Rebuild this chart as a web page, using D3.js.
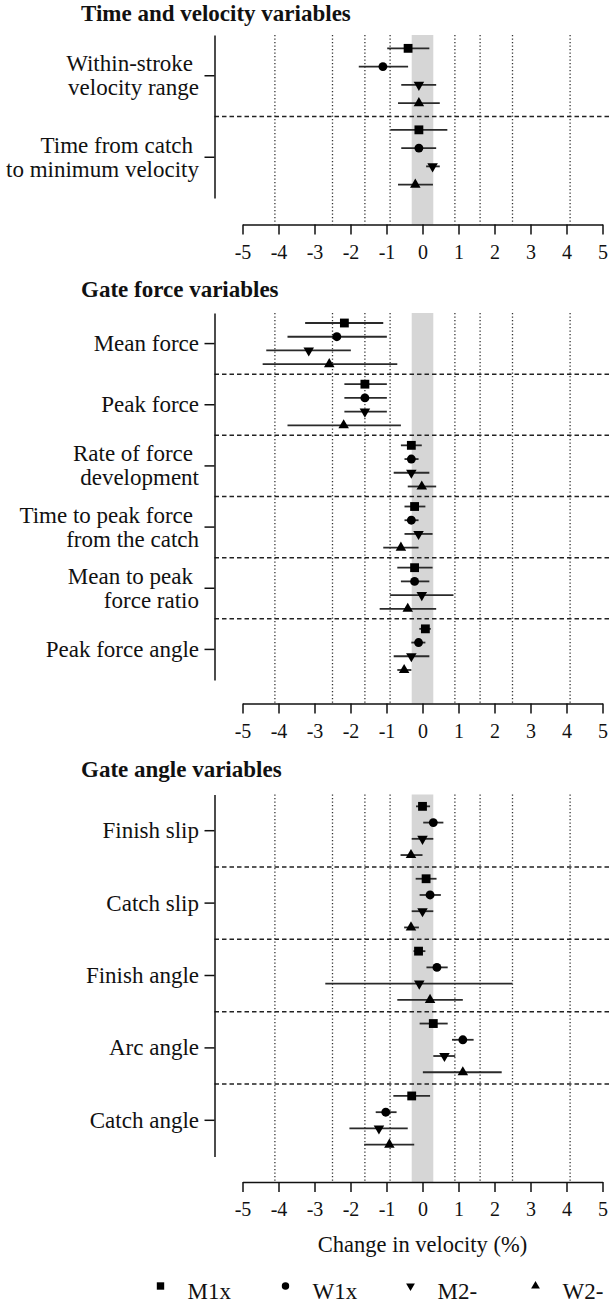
<!DOCTYPE html>
<html>
<head>
<meta charset="UTF-8">
<title>Change in velocity</title>
<script src="https://cdn.jsdelivr.net/npm/d3@7"></script>
<style>
  body { margin: 0; background: #fff; }
  svg text { font-family: "Liberation Serif", "Times New Roman", serif; fill: #111; }
</style>
</head>
<body>
<svg id="chart" width="611" height="1309"></svg>
<script>
// series, in the order they are stacked inside every variable
const series = ["M1x", "W1x", "M2-", "W2-"];
const xTicks = [-5, -4, -3, -2, -1, 0, 1, 2, 3, 4, 5];
const thresholds = [-4.1, -2.5, -1.6, -0.9, 0.9, 1.6, 2.5, 4.1];
const trivial = [-0.3, 0.3];

// each value row: [mean, lower, upper] per series
const timeLabels = [["Within-stroke", "velocity range"], ["Time from catch", "to minimum velocity"]];
const timeValues = [
  [[-0.40, -0.98, 0.19], [-1.10, -1.77, -0.40], [-0.10, -0.59, 0.38], [-0.10, -0.68, 0.48]],
  [[-0.10, -0.89, 0.69], [-0.10, -0.59, 0.38], [0.28, 0.10, 0.48], [-0.20, -0.68, 0.29]]
];

const forceLabels = [["Mean force"], ["Peak force"], ["Rate of force", "development"],
  ["Time to peak force", "from the catch"], ["Mean to peak", "force ratio"], ["Peak force angle"]];
const forceValues = [
  [[-2.17, -3.26, -1.09], [-2.38, -3.75, -0.99], [-3.16, -4.34, -1.99], [-2.59, -4.44, -0.70]],
  [[-1.60, -2.17, -0.99], [-1.60, -2.17, -0.99], [-1.60, -2.17, -0.99], [-2.19, -3.75, -0.60]],
  [[-0.31, -0.60, -0.02], [-0.31, -0.50, -0.11], [-0.31, -0.80, 0.19], [-0.02, -0.41, 0.38]],
  [[-0.22, -0.50, 0.08], [-0.31, -0.50, -0.11], [-0.11, -0.50, 0.28], [-0.60, -1.09, -0.11]],
  [[-0.22, -0.70, 0.28], [-0.22, -0.60, 0.19], [-0.02, -0.90, 0.86], [-0.41, -1.19, 0.38]],
  [[0.08, -0.09, 0.23], [-0.11, -0.31, 0.08], [-0.31, -0.80, 0.19], [-0.51, -0.70, -0.31]]
];

const angleLabels = [["Finish slip"], ["Catch slip"], ["Finish angle"], ["Arc angle"], ["Catch angle"]];
const angleValues = [
  [[0.00, -0.18, 0.21], [0.30, 0.02, 0.58], [0.00, -0.30, 0.30], [-0.32, -0.61, 0.00]],
  [[0.10, -0.19, 0.39], [0.21, -0.08, 0.51], [0.00, -0.30, 0.30], [-0.32, -0.51, -0.10]],
  [[-0.11, -0.25, 0.08], [0.40, 0.11, 0.70], [-0.09, -2.70, 2.50], [0.21, -0.70, 1.12]],
  [[0.30, -0.08, 0.70], [1.12, 0.82, 1.42], [0.61, 0.30, 0.91], [1.12, 0.01, 2.20]],
  [[-0.30, -0.81, 0.21], [-1.02, -1.30, -0.72], [-1.21, -2.03, -0.41], [-0.92, -1.62, -0.23]]
];

const panels = [
  {title: "Time and velocity variables", titleY: 21, top: 35, bottom: 198, axisY: 224.5, labels: timeLabels, values: timeValues},
  {title: "Gate force variables", titleY: 297, top: 313, bottom: 680, axisY: 703.5, labels: forceLabels, values: forceValues},
  {title: "Gate angle variables", titleY: 777, top: 794.5, bottom: 1156.5, axisY: 1182, labels: angleLabels, values: angleValues}
];

const svg = d3.select("#chart");
const spineX = 214.5;
const x = d3.scaleLinear().domain([-5, 5]).range([242.5, 602.5]);

const shapes = [d3.symbolSquare, d3.symbolCircle, d3.symbolTriangle, d3.symbolTriangle];
const sizes = [78, 62, 48, 48];
const rot = [0, 0, 180, 0];
const symbol = (i, scale) => d3.symbol().type(shapes[i]).size(sizes[i] * scale)();

panels.forEach(p => {
  const g = svg.append("g");
  const groups = d3.range(p.labels.length);
  const y = d3.scaleBand().domain(groups).range([p.top, p.bottom]);
  const row = d3.scalePoint().domain(d3.range(series.length)).range([0, y.bandwidth()]).padding(0.73);

  g.append("text")
    .attr("x", 81).attr("y", p.titleY)
    .style("font-weight", "bold").style("font-size", "23px")
    .text(p.title);

  // trivial zone
  g.append("rect")
    .attr("x", x(trivial[0])).attr("width", x(trivial[1]) - x(trivial[0]))
    .attr("y", p.top).attr("height", p.axisY - p.top)
    .attr("fill", "#d6d6d6");

  // threshold lines
  g.selectAll(".thr").data(thresholds).join("line")
    .attr("x1", d => x(d)).attr("x2", d => x(d))
    .attr("y1", p.top).attr("y2", p.axisY)
    .attr("stroke", "#333").attr("stroke-width", 1.3)
    .attr("stroke-dasharray", "1.3,2.2");

  // group separators
  g.selectAll(".sep").data(groups.slice(1)).join("line")
    .attr("x1", spineX).attr("x2", 611)
    .attr("y1", d => y(d)).attr("y2", d => y(d))
    .attr("stroke", "#222").attr("stroke-width", 1.5)
    .attr("stroke-dasharray", "4.5,3");

  // error bars and markers
  const pts = [];
  p.values.forEach((vals, gi) => vals.forEach((v, si) => pts.push({gi, si, m: v[0], lo: v[1], hi: v[2]})));

  g.selectAll(".err").data(pts).join("line")
    .attr("x1", d => x(d.lo)).attr("x2", d => x(d.hi))
    .attr("y1", d => y(d.gi) + row(d.si)).attr("y2", d => y(d.gi) + row(d.si))
    .attr("stroke", "#2a2a2a").attr("stroke-width", 1.8);

  g.selectAll(".mark").data(pts).join("path")
    .attr("d", d => symbol(d.si, 1))
    .attr("transform", d => `translate(${x(d.m)},${y(d.gi) + row(d.si)}) rotate(${rot[d.si]})`)
    .attr("fill", "#000");

  // x axis
  const xa = g.append("g")
    .attr("transform", `translate(0,${p.axisY})`)
    .call(d3.axisBottom(x).tickValues(xTicks).tickSize(10).tickSizeOuter(0)
      .tickFormat(d => (d < 0 ? "-" : "") + Math.abs(d)));
  xa.select(".domain").attr("stroke", "#111").attr("stroke-width", 1.5);
  xa.selectAll(".tick line").attr("stroke", "#111").attr("stroke-width", 1.5);
  xa.selectAll(".tick text")
    .attr("y", 34).attr("dy", null)
    .style("font-size", "20px").style("font-family", "Liberation Serif, serif").attr("fill", "#111");

  // y spine with ticks at each variable
  const ya = g.append("g")
    .attr("transform", `translate(${spineX},0)`)
    .call(d3.axisLeft(y).tickSize(10).tickSizeOuter(0).tickFormat(""));
  ya.select(".domain").attr("stroke", "#111").attr("stroke-width", 1.5);
  ya.selectAll(".tick line").attr("stroke", "#111").attr("stroke-width", 1.5);

  // variable labels, one or two lines, right aligned
  p.labels.forEach((lines, gi) => {
    const cy = y(gi) + y.bandwidth() / 2;
    const t = g.append("text")
      .attr("text-anchor", "end")
      .style("font-size", "23px");
    lines.forEach((ln, li) => {
      const base = lines.length === 1 ? cy + 7.5 : cy - 4.5 + li * 24;
      t.append("tspan")
        .attr("x", lines.length > 1 && li === 0 ? 193 : 199)
        .attr("y", base)
        .text(ln);
    });
  });
});

// axis title
svg.append("text")
  .attr("x", x(0)).attr("y", 1252)
  .attr("text-anchor", "middle")
  .style("font-size", "22.5px")
  .text("Change in velocity (%)");

// legend
const lx = d3.scalePoint().domain(series).range([160.5, 535.5]);
const leg = svg.append("g");
series.forEach((s, i) => {
  leg.append("path")
    .attr("d", symbol(i, 0.7))
    .attr("transform", `translate(${lx(s)},1286) rotate(${rot[i]})`)
    .attr("fill", "#000");
  leg.append("text")
    .attr("x", lx(s) + 27).attr("y", 1299)
    .style("font-size", "23px")
    .text(s);
});
</script>
</body>
</html>
